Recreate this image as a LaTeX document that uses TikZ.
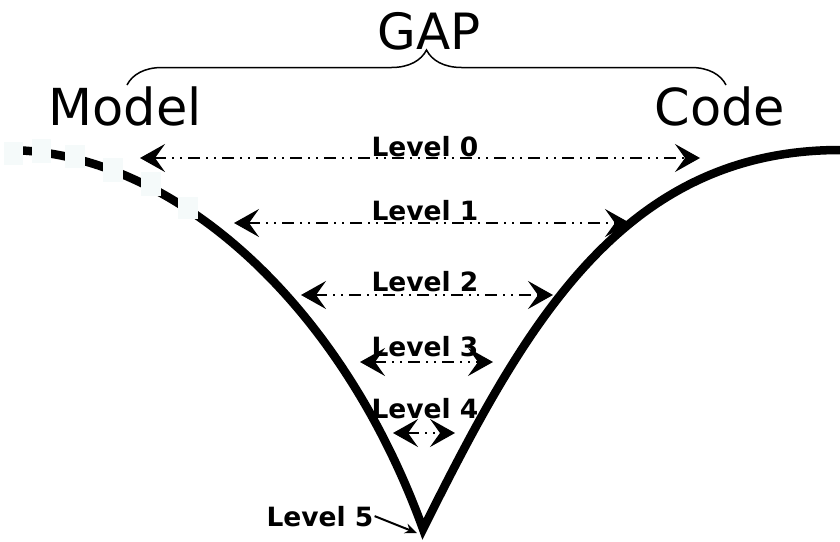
\documentclass[tikz,border=0pt]{standalone}
\usepackage{fontspec}
\setmainfont{DejaVu Sans}
\definecolor{maskWhite}{RGB}{245,250,250}
\usepackage{tikz}
\usetikzlibrary{arrows.meta, decorations.pathreplacing}

\begin{document}
\begin{tikzpicture}[
    x=1pt, y=-1pt,
    side/.style={anchor=base, inner sep=0pt, font=\fontsize{51}{60}\selectfont},
    level/.style={anchor=base, inner sep=1pt, font=\bfseries\fontsize{26.5}{30}\selectfont},
    barb/.tip={Stealth[length=25pt, width=28pt, inset=10pt]},
    span/.style={line width=2pt, barb-barb,
                 dash pattern=on 12pt off 6pt on 2pt off 6pt on 2pt off 6pt},
    valley/.style={line width=8.5pt, line join=miter, miter limit=20},
    mask/.style={fill=maskWhite, draw=none},
  ]
  \useasboundingbox (0,0) rectangle (840,541);

  \node[side] (model) at (125,125) {Model};
  \node[side] (code) at (720,125) {Code};
  \node[side, font=\fontsize{50}{60}\selectfont] (gap) at (429,49) {GAP};

  \coordinate (bl) at (127,85);
  \coordinate (br) at (726,85);
  \draw[line width=1.5pt, decorate, decoration={brace, amplitude=35pt}] (bl) -- (br);

  \coordinate (vbot) at (423,529);
  \draw[valley] (6,150) .. controls (170,150) and (340,300) .. (vbot)
                        .. controls (523,329) and (620,150) .. (840,150);

  \fill[mask] (4,142) rectangle (23,165);
  \fill[mask] (32,139) rectangle (51,163);
  \fill[mask] (65,145) rectangle (85,168);
  \fill[mask] (103,158) rectangle (123,182);
  \fill[mask] (141,172) rectangle (161,196);
  \fill[mask] (178,197) rectangle (198,219);

  \node[level] (L0) at (425,156) {Level 0};
  \node[level] (L1) at (425,220) {Level 1};
  \node[level] (L2) at (425,291) {Level 2};
  \node[level] (L3) at (425,356) {Level 3};
  \node[level] (L4) at (425,418) {Level 4};
  \node[level] (L5) at (320,526) {Level 5};

  \coordinate (l0a) at (140,158);  \coordinate (l0b) at (700,158);
  \coordinate (l1a) at (234,223);  \coordinate (l1b) at (630,223);
  \coordinate (l2a) at (301,295);  \coordinate (l2b) at (553,295);
  \coordinate (l3a) at (360,362);  \coordinate (l3b) at (493,362);
  \coordinate (l4a) at (393,433);  \coordinate (l4b) at (455,433);
  \coordinate (v5) at (417,533);

  \draw[span] (l0a) -- (l0b);
  \draw[span] (l1a) -- (l1b);
  \draw[span] (l2a) -- (l2b);
  \draw[span] (l3a) -- (l3b);
  \draw[span] (l4a) -- (l4b);
  \draw[line width=2pt, -{Stealth[length=12pt, width=10pt]}] (L5.east) -- (v5);
\end{tikzpicture}
\end{document}
